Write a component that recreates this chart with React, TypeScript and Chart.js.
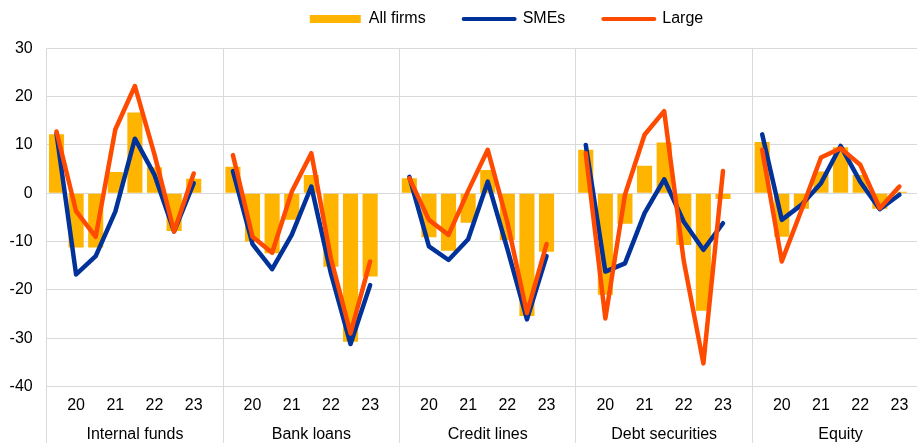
import React, { useEffect, useRef } from 'react';
import { Chart, registerables } from 'chart.js';

Chart.register(...registerables);

// Categories (groups) and period tick labels inside each group
const categories = ['Internal funds', 'Bank loans', 'Credit lines', 'Debt securities', 'Equity'];
const periodTicks = ['', '20', '', '21', '', '22', '', '23'];
const yTicks = [30, 20, 10, 0, -10, -20, -30, -40];

// Series values, one inner array per category (8 periods each)
const allFirms = [
  [12.2, -11.2, -11.2, 4.4, 16.7, 5.4, -7.8, 3.0],
  [5.5, -10.0, -12.4, -5.5, 3.8, -15.2, -30.7, -17.2],
  [3.1, -9.1, -11.9, -6.1, 4.8, -9.7, -25.4, -12.1],
  [9.0, -21.0, -6.3, 5.7, 10.5, -10.7, -24.3, -1.2],
  [10.6, -9.0, -3.2, 4.5, 9.5, 3.8, -3.2, 0.3],
];
const smes = [
  [12.4, -16.8, -13.0, -3.8, 11.3, 3.8, -7.9, 2.1],
  [4.6, -10.5, -15.7, -8.6, 1.4, -16.6, -31.2, -19.0],
  [3.4, -11.0, -13.8, -9.5, 2.4, -11.5, -26.1, -13.0],
  [10.0, -16.2, -14.5, -4.1, 2.9, -5.9, -11.7, -6.2],
  [12.2, -5.5, -2.4, 2.1, 9.8, 2.4, -3.3, -0.3],
];
const large = [
  [12.8, -3.7, -9.0, 13.2, 22.2, 8.0, -7.9, 4.1],
  [7.9, -9.0, -12.3, 0.3, 8.3, -13.5, -29.0, -14.1],
  [3.1, -5.5, -8.6, 0.5, 9.0, -6.0, -24.8, -10.5],
  [8.3, -25.9, -0.3, 12.1, 17.0, -14.0, -35.2, 4.6],
  [9.0, -14.1, -3.5, 7.4, 9.3, 5.9, -3.1, 1.4],
];

const FONT = "'Liberation Sans', Arial, Helvetica, sans-serif";
const GRID = '#d9d9d9';
const YELLOW = '#FFB400';
const BLUE = '#003299';
const ORANGE = '#FF4B00';
const SLOTS = periodTicks.length + 1;

const labels: string[] = [];
categories.forEach((c) => {
  periodTicks.forEach((_, k) => labels.push(c + ' ' + k));
  labels.push(c + ' gap');
});

const build = (series: number[][]) => {
  const out: (number | null)[] = [];
  series.forEach((g) => {
    out.push(...g, null);
  });
  return out;
};

const groupSeparators = {
  id: 'groupSeparators',
  afterDraw(chart: any) {
    const x = chart.scales.x;
    const { ctx, chartArea } = chart;
    const step = x.getPixelForValue(1) - x.getPixelForValue(0);
    ctx.save();
    ctx.strokeStyle = GRID;
    ctx.lineWidth = 1;
    for (let g = 0; g <= categories.length; g++) {
      const px = Math.round(x.getPixelForValue(g * SLOTS) - step / 2 - 0.5) + 0.5;
      ctx.beginPath();
      ctx.moveTo(px, chartArea.bottom);
      ctx.lineTo(px, chart.height);
      ctx.stroke();
    }
    ctx.restore();
  },
};

const legendShift = {
  id: 'legendShift',
  afterLayout(chart: any) {
    const l = chart.legend;
    if (l) {
      l.left += 42;
      l.right += 42;
    }
  },
};

export default function App() {
  const ref = useRef<HTMLCanvasElement>(null);

  useEffect(() => {
    if (!ref.current) return;
    const chart = new Chart(ref.current, {
      type: 'bar',
      data: {
        labels,
        datasets: [
          {
            type: 'bar',
            label: 'All firms',
            data: build(allFirms),
            backgroundColor: YELLOW,
            barPercentage: 0.77,
            categoryPercentage: 1,
            order: 3,
            xAxisID: 'x',
            yAxisID: 'y',
          },
          {
            type: 'line',
            label: 'SMEs',
            data: build(smes),
            borderColor: BLUE,
            backgroundColor: BLUE,
            borderWidth: 4.5,
            pointRadius: 0,
            tension: 0,
            spanGaps: false,
            borderCapStyle: 'round',
            borderJoinStyle: 'round',
            order: 2,
            xAxisID: 'x',
            yAxisID: 'y',
          },
          {
            type: 'line',
            label: 'Large',
            data: build(large),
            borderColor: ORANGE,
            backgroundColor: ORANGE,
            borderWidth: 4.5,
            pointRadius: 0,
            tension: 0,
            spanGaps: false,
            borderCapStyle: 'round',
            borderJoinStyle: 'round',
            order: 1,
            xAxisID: 'x',
            yAxisID: 'y',
          },
        ] as any,
      },
      options: {
        responsive: false,
        animation: false,
        devicePixelRatio: 1,
        layout: { padding: { top: -27, left: 0, right: 0, bottom: 0 } },
        plugins: {
          tooltip: { enabled: false },
          legend: {
            display: true,
            position: 'top',
            labels: {
              usePointStyle: true,
              pointStyleWidth: 51,
              boxHeight: 8,
              padding: 38,
              color: '#000',
              font: { size: 16, family: FONT },
              generateLabels: (chart: any) =>
                chart.data.datasets.map((ds: any, i: number) => ({
                  text: ds.label,
                  fillStyle: ds.type === 'line' ? ds.borderColor : ds.backgroundColor,
                  strokeStyle: ds.type === 'line' ? ds.borderColor : ds.backgroundColor,
                  lineWidth: ds.type === 'line' ? 4 : 0,
                  lineCap: 'round',
                  pointStyle: ds.type === 'line' ? 'line' : 'rect',
                  hidden: false,
                  datasetIndex: i,
                  fontColor: '#000',
                })),
            },
          },
        },
        scales: {
          x: {
            type: 'category',
            axis: 'x',
            position: 'bottom',
            offset: true,
            weight: 0,
            grid: {
              offset: true,
              drawTicks: false,
              lineWidth: 1,
              color: (ctx: any) => (ctx.index % SLOTS === 0 ? GRID : 'rgba(0,0,0,0)'),
            },
            border: { display: false },
            ticks: {
              autoSkip: false,
              maxRotation: 0,
              padding: 9.5,
              color: '#000',
              font: { size: 16, family: FONT },
              callback: (_v: any, index: number) => {
                const k = index % SLOTS;
                return k < periodTicks.length ? periodTicks[k] : '';
              },
            },
            afterFit: (s: any) => {
              s.height = 28.2;
            },
          },
          x2: {
            type: 'category',
            axis: 'x',
            position: 'bottom',
            offset: true,
            weight: 1,
            grid: { display: false, drawTicks: false },
            border: { display: false },
            ticks: {
              autoSkip: false,
              maxRotation: 0,
              padding: 10,
              color: '#000',
              font: { size: 16, family: FONT },
              callback: (_v: any, index: number) =>
                index % SLOTS === 4 ? categories[Math.floor(index / SLOTS)] : '',
            },
            afterFit: (s: any) => {
              s.height = 28.2;
            },
          },
          xt: {
            type: 'category',
            axis: 'x',
            position: 'top',
            offset: true,
            weight: 0,
            grid: { display: false, drawTicks: false },
            border: { display: false },
            ticks: { display: false },
            afterFit: (s: any) => {
              s.height = 11.3;
            },
          },
          y: {
            type: 'linear',
            min: yTicks[yTicks.length - 1],
            max: yTicks[0],
            grid: { color: GRID, lineWidth: 1, drawTicks: false },
            border: { display: false },
            afterBuildTicks: (s: any) => {
              s.ticks = yTicks.map((v) => ({ value: v }));
            },
            ticks: {
              padding: 14,
              color: '#000',
              font: { size: 16, family: FONT },
            },
            afterFit: (s: any) => {
              s.width = 46.7;
            },
          },
        },
      } as any,
      plugins: [groupSeparators, legendShift],
    });
    return () => chart.destroy();
  }, []);

  return (
    <div
      style={{
        position: 'fixed',
        left: 0,
        top: 0,
        width: 917,
        height: 443,
        overflow: 'hidden',
        background: '#fff',
      }}
    >
      <canvas ref={ref} width={929} height={443} style={{ display: 'block' }} />
    </div>
  );
}
